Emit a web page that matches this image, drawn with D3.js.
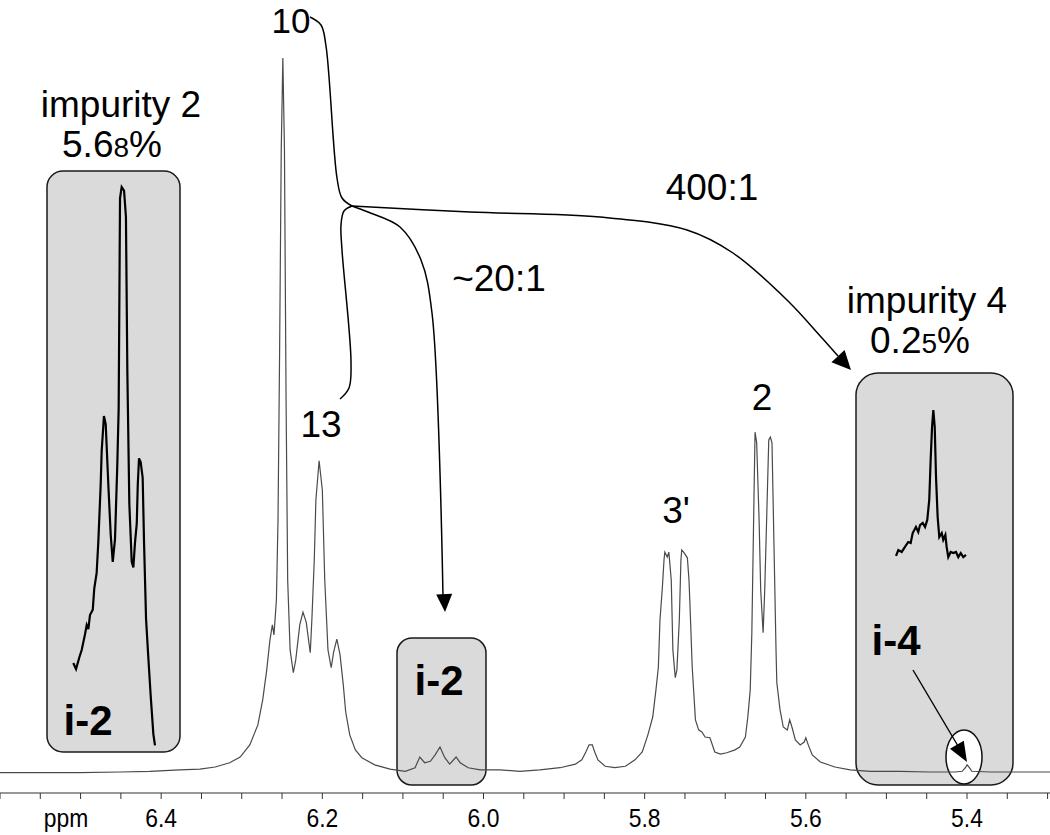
<!DOCTYPE html>
<html>
<head>
<meta charset="utf-8">
<script src="https://d3js.org/d3.v7.min.js"></script>
<style>
  body { margin: 0; background: #fff; }
  text { font-family: Arial, "Liberation Sans", sans-serif; fill: #000; }
</style>
</head>
<body>
<div id="chart"></div>
<script>
// 1H NMR spectrum, [ppm, relative intensity %] (peak 10 = 100)
let mainSpectrum = [
  [6.600,-0.1],[6.550,-0.1],[6.501,-0.1],[6.451,0],[6.414,0.1],[6.377,0.3],[6.352,0.4],[6.333,0.7],
  [6.315,1.3],[6.302,2.1],[6.290,3.8],[6.280,6.6],[6.274,10.1],[6.269,14.3],[6.265,18.5],[6.262,20.6],
  [6.260,19.2],[6.257,24.1],[6.255,35.3],[6.253,59.1],[6.251,87.1],[6.249,100],[6.247,87.1],[6.245,52.1],
  [6.243,26.9],[6.240,17.1],[6.236,13.9],[6.233,15.7],[6.228,20.6],[6.224,22.4],[6.220,21.0],[6.215,16.7],
  [6.213,21.3],[6.210,29.7],[6.208,38.1],[6.204,43.6],[6.200,39.5],[6.197,26.9],[6.193,17.1],[6.189,14.6],
  [6.186,16.8],[6.182,18.6],[6.178,16.4],[6.174,12.2],[6.171,8.4],[6.166,5.2],[6.159,3.1],[6.151,2.0],
  [6.135,1.0],[6.116,0.4],[6.097,0.1],[6.085,0.6],[6.079,2.1],[6.073,1.3],[6.066,1.5],[6.060,2.4],
  [6.054,3.5],[6.048,2.0],[6.042,1.1],[6.034,2.1],[6.029,1.3],[6.019,0.6],[6.004,0.3],[5.980,0.3],
  [5.955,0.1],[5.930,0.3],[5.905,0.6],[5.886,1.1],[5.878,1.7],[5.873,2.8],[5.869,3.8],[5.865,3.8],
  [5.862,2.8],[5.858,1.7],[5.849,0.8],[5.837,0.6],[5.824,0.8],[5.812,1.7],[5.803,2.8],[5.796,5.2],
  [5.790,7.7],[5.786,11.5],[5.783,14.7],[5.781,21.3],[5.778,25.9],[5.776,29.7],[5.775,30.8],[5.772,30.1],
  [5.770,30.8],[5.767,26.9],[5.765,17.1],[5.762,13.2],[5.760,14.3],[5.757,21.3],[5.755,29.7],[5.754,31.1],
  [5.751,30.7],[5.747,30.0],[5.745,26.9],[5.744,24.1],[5.741,14.7],[5.737,7.3],[5.733,5.9],[5.729,5.6],
  [5.725,4.9],[5.719,4.8],[5.713,2.8],[5.706,2.5],[5.698,2.7],[5.688,3.1],[5.682,3.5],[5.675,4.9],
  [5.672,7.7],[5.669,11.5],[5.667,19.5],[5.664,40.9],[5.663,47.6],[5.661,46.1],[5.658,35.3],[5.656,25.5],
  [5.653,19.5],[5.651,25.5],[5.648,38.1],[5.646,46.5],[5.644,46.9],[5.642,46.1],[5.639,28.7],[5.637,17.1],
  [5.636,12.5],[5.632,8.7],[5.628,6.3],[5.623,5.9],[5.620,7.3],[5.617,6.2],[5.613,4.5],[5.607,3.8],
  [5.602,4.2],[5.600,4.8],[5.597,3.8],[5.592,2.4],[5.582,1.4],[5.564,0.7],[5.545,0.3],[5.520,0.1],
  [5.483,0.1],[5.446,0],[5.415,0],[5.406,0.1],[5.402,0.6],[5.400,1.0],[5.397,0.6],[5.394,0.1],
  [5.371,0],[5.334,0],[5.297,0]
];

// expanded impurity 2 region (left inset)
let impurity2Zoom = [
  [6.0874,0.691],[6.0852,0.655],[6.0826,0.723],[6.0807,0.767],[6.0781,0.859],[6.0767,0.915],[6.0754,0.891],
  [6.0741,0.974],[6.0719,1.005],[6.0707,1.130],[6.0688,1.222],[6.0675,1.401],[6.0656,1.741],[6.0648,1.942],
  [6.0630,2.148],[6.0616,2.101],[6.0595,1.741],[6.0576,1.446],[6.0560,1.287],[6.0542,1.422],[6.0524,1.853],
  [6.0513,2.190],[6.0502,3.435],[6.0489,3.500],[6.0470,3.479],[6.0455,3.323],[6.0444,2.420],[6.0428,1.629],
  [6.0409,1.287],[6.0396,1.254],[6.0383,1.401],[6.0369,1.513],[6.0361,1.741],[6.0351,1.898],[6.0338,1.877],
  [6.0322,1.785],[6.0311,1.401],[6.0295,0.950],[6.0277,0.723],[6.0258,0.496],[6.0237,0.271],[6.0224,0.204]
];

// expanded impurity 4 region (right inset)
let impurity4Zoom = [
  [5.4300,0.088],[5.4280,0.125],[5.4251,0.113],[5.4223,0.144],[5.4195,0.175],[5.4174,0.169],[5.4157,0.231],
  [5.4129,0.269],[5.4109,0.238],[5.4094,0.281],[5.4071,0.294],[5.4051,0.269],[5.4032,0.313],[5.4015,0.438],
  [5.4003,0.688],[5.3991,0.894],[5.3980,1.000],[5.3968,0.894],[5.3957,0.581],[5.3943,0.331],[5.3929,0.206],
  [5.3908,0.231],[5.3895,0.188],[5.3877,0.219],[5.3866,0.144],[5.3852,0.081],[5.3831,0.113],[5.3809,0.106],
  [5.3786,0.113],[5.3766,0.081],[5.3745,0.106],[5.3723,0.081],[5.3700,0.094]
];

let tickLabels = [6.4, 6.2, 6.0, 5.8, 5.6, 5.4];
let minorTicks = d3.range(0, 27).map(i => +(6.6 - i * 0.05).toFixed(2));

let width = 1050;
let height = 835;

let svg = d3.select("#chart").append("svg")
  .attr("width", width)
  .attr("height", height);

// scales
let xScale = d3.scaleLinear().domain([6.6, 5.297]).range([0, width]);
let yScale = d3.scaleLinear().domain([0, 100]).range([772, 58]);

// inset scales
let i2x = d3.scaleLinear().domain([6.09, 6.02]).range([70, 158]);
let i2y = d3.scaleLinear().domain([0, 3.5]).range([780, 187]);
let i4x = d3.scaleLinear().domain([5.43, 5.37]).range([896, 966]);
let i4y = d3.scaleLinear().domain([0, 1]).range([570, 410]);

// grey boxes behind the trace
let boxes = [
  {x: 47, y: 171, w: 133, h: 581, r: 16},
  {x: 397, y: 638, w: 89, h: 147, r: 15},
  {x: 856, y: 373, w: 157, h: 412, r: 22}
];
svg.selectAll(".box").data(boxes).enter().append("rect")
  .attr("class", "box")
  .attr("x", d => d.x).attr("y", d => d.y)
  .attr("width", d => d.w).attr("height", d => d.h)
  .attr("rx", d => d.r).attr("ry", d => d.r)
  .style("fill", "#dadada")
  .style("stroke", "#1a1a1a")
  .style("stroke-width", 1.5);

svg.append("ellipse")
  .attr("cx", 964).attr("cy", 757)
  .attr("rx", 18).attr("ry", 27)
  .style("fill", "#fff")
  .style("stroke", "#111")
  .style("stroke-width", 1.5);

// main trace
let line = d3.line()
  .x(d => xScale(d[0]))
  .y(d => yScale(d[1]));

svg.append("path")
  .datum(mainSpectrum)
  .attr("d", line)
  .style("fill", "none")
  .style("stroke", "#4a4a4a")
  .style("stroke-width", 1.2);

// insets
svg.append("path")
  .datum(impurity2Zoom)
  .attr("d", d3.line().x(d => i2x(d[0])).y(d => i2y(d[1])))
  .style("fill", "none")
  .style("stroke", "#000")
  .style("stroke-width", 2.2);

svg.append("path")
  .datum(impurity4Zoom)
  .attr("d", d3.line().x(d => i4x(d[0])).y(d => i4y(d[1])))
  .style("fill", "none")
  .style("stroke", "#000")
  .style("stroke-width", 2.2);

// axis
let axisY = 793;
svg.append("line")
  .attr("x1", 0).attr("x2", width)
  .attr("y1", axisY).attr("y2", axisY)
  .style("stroke", "#333").style("stroke-width", 1.2);

svg.selectAll(".tick").data(minorTicks).enter().append("line")
  .attr("x1", d => xScale(d)).attr("x2", d => xScale(d))
  .attr("y1", axisY).attr("y2", axisY + 6)
  .style("stroke", "#333").style("stroke-width", 1);

// tick labels look slightly condensed in the original
svg.selectAll(".tlabel").data(tickLabels).enter().append("text")
  .attr("transform", d => "translate(" + xScale(d) + ",827) scale(0.88,1)")
  .attr("text-anchor", "middle")
  .style("font-size", "26px")
  .text(d => d.toFixed(1));

svg.append("text")
  .attr("transform", "translate(66,827) scale(0.88,1)")
  .attr("text-anchor", "middle")
  .style("font-size", "26px")
  .text("ppm");

// annotation arrows
function arrowHead(tip, from, len, half) {
  let a = Math.atan2(tip[1] - from[1], tip[0] - from[0]);
  let bx = tip[0] - len * Math.cos(a), by = tip[1] - len * Math.sin(a);
  let px = -Math.sin(a) * half, py = Math.cos(a) * half;
  svg.append("path")
    .attr("d", "M" + tip + "L" + [bx + px, by + py] + "L" + [bx - px, by - py] + "Z")
    .style("fill", "#000");
}

let curve = d3.line().curve(d3.curveCatmullRom.alpha(0.5));
function drawCurve(pts, w) {
  svg.append("path")
    .attr("d", curve(pts))
    .style("fill", "none")
    .style("stroke", "#000")
    .style("stroke-width", w || 1.5);
}

// 10 bracket to junction
drawCurve([[310, 17], [321, 25], [326, 46], [337, 178], [342, 198], [352, 206]]);
// 13 bracket
drawCurve([[352, 206], [344, 211], [341, 225], [342, 250], [351, 362], [349, 388], [340, 399]]);
// 400:1 arrow
drawCurve([[352, 206], [470, 212], [600, 217], [687, 230], [733, 253], [787, 300], [822, 338], [838, 356]]);
arrowHead([851, 370], [836, 354], 19, 9);
// ~20:1 arrow
drawCurve([[352, 206], [368, 212], [400, 227], [421, 260], [432, 313], [443, 597]]);
arrowHead([445, 612], [444, 590], 18, 8);
// i-4 arrow
svg.append("line")
  .attr("x1", 913).attr("y1", 670).attr("x2", 958).attr("y2", 746)
  .style("stroke", "#000").style("stroke-width", 1.4);
arrowHead([967, 762], [913, 670], 20, 8);

// labels
let labels = [
  {t: "10", x: 291, y: 33, s: 35},
  {t: "13", x: 321, y: 437, s: 37},
  {t: "400:1", x: 712, y: 200, s: 37},
  {t: "~20:1", x: 499, y: 291, s: 37},
  {t: "impurity 2", x: 121, y: 117, s: 37},
  {t: "impurity 4", x: 927, y: 313, s: 37},
  {t: "3'", x: 676, y: 523, s: 37},
  {t: "2", x: 762, y: 410, s: 37}
];
svg.selectAll(".lab").data(labels).enter().append("text")
  .attr("x", d => d.x).attr("y", d => d.y)
  .attr("text-anchor", "middle")
  .style("font-size", d => d.s + "px")
  .text(d => d.t);

// percentages with a smaller last digit
let pct = [
  {a: "5.6", b: "8", x: 112, y: 157},
  {a: "0.2", b: "5", x: 920, y: 353}
];
pct.forEach(p => {
  let t = svg.append("text").attr("x", p.x).attr("y", p.y)
    .attr("text-anchor", "middle")
    .style("font-size", "37px");
  t.append("tspan").text(p.a);
  t.append("tspan").style("font-size", "28px").text(p.b);
  t.append("tspan").text("%");
});

let boldLabels = [
  {t: "i-2", x: 88, y: 735},
  {t: "i-2", x: 439, y: 695},
  {t: "i-4", x: 896, y: 655}
];
svg.selectAll(".blab").data(boldLabels).enter().append("text")
  .attr("x", d => d.x).attr("y", d => d.y)
  .attr("text-anchor", "middle")
  .style("font-size", "42px")
  .style("font-weight", "bold")
  .text(d => d.t);
</script>
</body>
</html>
